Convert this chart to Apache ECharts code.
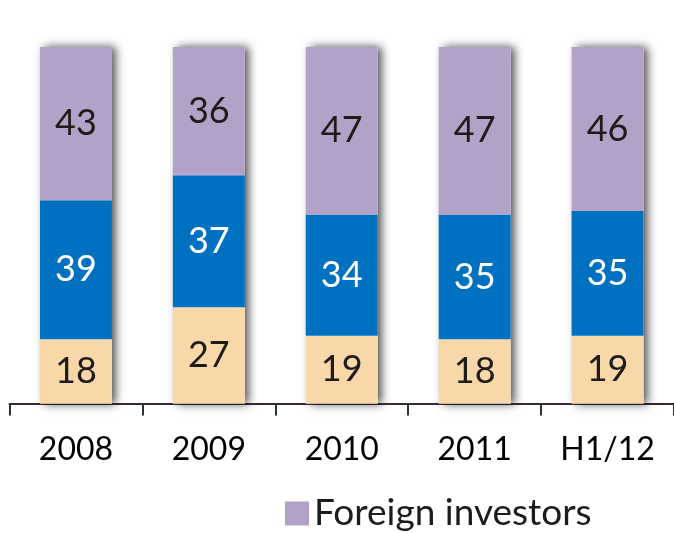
<!DOCTYPE html>
<html>
<head>
<meta charset="utf-8">
<script src="https://cdn.jsdelivr.net/npm/echarts@6/dist/echarts.min.js"></script>
<style>
  html, body { margin: 0; padding: 0; background: #fff; }
  #chart { width: 674px; height: 533px; }
</style>
</head>
<body>
<div id="chart"></div>
<script>
"use strict";

var categories = ['2008', '2009', '2010', '2011', 'H1/12'];
var retailValues = [18, 27, 19, 18, 19];
var domesticValues = [39, 37, 34, 35, 35];
var foreignValues = [43, 36, 47, 47, 46];

var peachColor = '#F8D7A9';
var blueColor = '#0070C0';
var purpleColor = '#B2A2C7';
var textColor = '#1e1c1a';
var fontName = 'Lato';

// totals are only used for the drop shadow behind each column
var totals = categories.map(function(c, i) {
	return retailValues[i] + domesticValues[i] + foreignValues[i];
});

var myChart = echarts.init(document.getElementById('chart'));

function segmentLabel(color) {
	return {
		show: true,
		position: 'inside',
		color: color,
		fontSize: 36,
		fontFamily: fontName
	};
}

var option = {
	animation: false,
	grid: { left: 9.5, right: -5.5, top: 47, bottom: 129.5, containLabel: false },
	legend: {
		data: ['Foreign investors'],
		left: 280,
		top: 490,
		itemWidth: 24,
		itemHeight: 24,
		icon: 'rect',
		textStyle: { fontSize: 37, fontFamily: fontName, color: textColor }
	},
	xAxis: {
		type: 'category',
		data: categories,
		axisLine: { show: true, lineStyle: { color: '#3a2a38', width: 2 } },
		axisTick: { show: true, length: 12, lineStyle: { color: '#3a2a38', width: 2 } },
		axisLabel: { margin: 30, fontSize: 32, fontFamily: fontName, color: '#000' }
	},
	yAxis: {
		type: 'value',
		min: 0,
		max: 100,
		show: false,
		splitLine: { show: false }
	},
	series: [
		{
			name: 'shadow',
			type: 'bar',
			data: totals,
			barWidth: 72,
			barGap: '-100%',
			silent: true,
			z: 1,
			itemStyle: {
				color: '#ffffff',
				shadowColor: 'rgba(0,0,0,0.7)',
				shadowBlur: 9,
				shadowOffsetX: 4,
				shadowOffsetY: 0
			}
		},
		{
			name: 'Retail investors',
			type: 'bar',
			stack: 'total',
			data: retailValues,
			barWidth: 72,
			barGap: '-100%',
			z: 2,
			itemStyle: { color: peachColor },
			label: segmentLabel(textColor)
		},
		{
			name: 'Domestic institutions',
			type: 'bar',
			stack: 'total',
			data: domesticValues,
			barWidth: 72,
			barGap: '-100%',
			z: 2,
			itemStyle: { color: blueColor },
			label: segmentLabel('#ffffff')
		},
		{
			name: 'Foreign investors',
			type: 'bar',
			stack: 'total',
			data: foreignValues,
			barWidth: 72,
			barGap: '-100%',
			z: 2,
			itemStyle: { color: purpleColor },
			label: segmentLabel(textColor)
		}
	]
};

myChart.setOption(option);
</script>
</body>
</html>
